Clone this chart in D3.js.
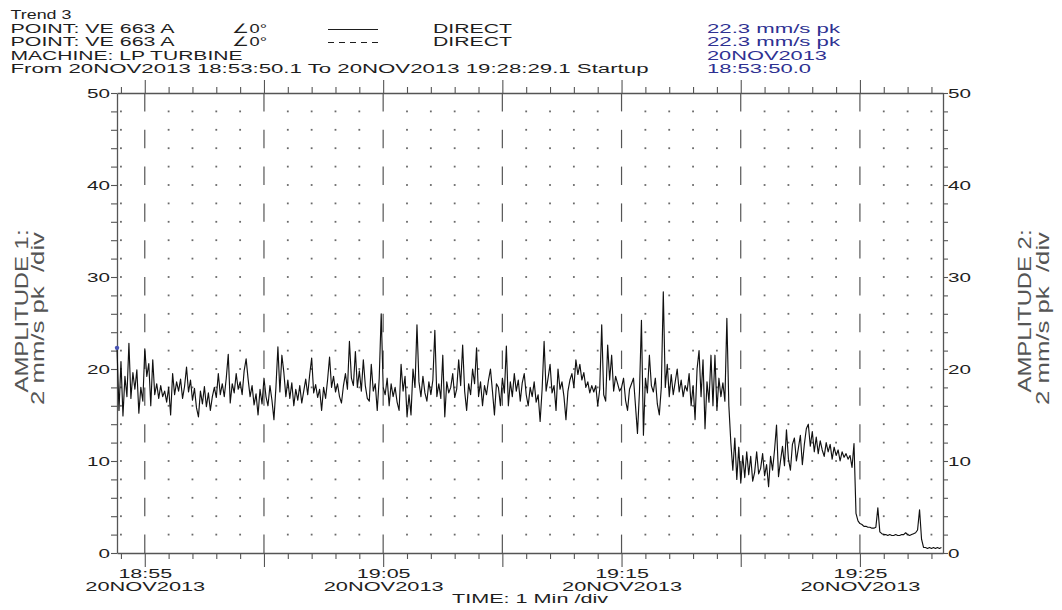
<!DOCTYPE html>
<html>
<head>
<meta charset="utf-8">
<script src="https://cdn.jsdelivr.net/npm/d3@7"></script>
<style>
  html, body { margin: 0; padding: 0; background: #fff; }
  svg { display: block; }
  text { font-family: "Liberation Sans", Arial, Helvetica, sans-serif; white-space: pre; }
</style>
</head>
<body>
<svg id="chart" width="1062" height="610"></svg>
<script>
// ---- Trend record: LP turbine overall vibration, one sample every 5 s ----
const startTime = new Date(2013, 10, 20, 18, 53, 50, 100);
const endTime = new Date(2013, 10, 20, 19, 28, 29, 100);
const sampleSeconds = 5;

// amplitude, mm/s pk (one row per minute of record)
const amplitude = [
  22.3, 15.5, 20.8, 14.9, 19.2, 17.0, 22.8, 16.8, 19.6, 17.8, 19.9, 15.2,
  18.0, 16.5, 22.2, 19.2, 20.6, 16.0, 21.0, 17.2, 18.4, 16.8, 18.2, 17.0,
  17.6, 16.4, 18.0, 15.0, 19.5, 17.2, 18.6, 17.6, 18.9, 16.8, 18.1, 20.2,
  17.5, 18.8, 16.6, 17.9, 15.8, 14.8, 17.6, 16.2, 18.1, 15.9, 17.4, 15.5,
  17.0, 18.0, 16.9, 19.5, 17.2, 18.4, 17.0, 19.0, 21.6, 16.3, 18.4, 17.4,
  19.5, 17.8, 18.6, 17.2, 19.8, 21.1, 18.9, 17.0, 18.2, 16.1, 17.3, 15.0,
  17.8, 16.2, 19.0, 17.0, 16.0, 18.2, 16.6, 14.5, 18.0, 22.4, 17.5, 21.5,
  19.6, 17.0, 18.8, 16.8, 18.5, 16.0, 17.8, 16.6, 18.2, 16.3, 17.6, 18.9,
  17.2, 19.4, 21.2, 17.4, 18.3, 16.9, 17.8, 15.5, 18.0, 16.8, 18.8, 21.3,
  18.0, 19.2, 17.5, 18.4, 17.0, 16.3, 18.2, 19.5, 17.8, 23.0, 19.0, 18.2,
  21.9, 18.0, 19.8, 17.6, 21.0, 18.2, 16.8, 16.5, 20.5, 17.6, 18.4, 15.5,
  19.0, 26.0, 18.0, 17.2, 19.0, 16.0, 18.4, 17.0, 18.0, 16.4, 15.5, 20.5,
  17.6, 19.2, 14.8, 17.2, 15.0, 20.0, 18.0, 24.8, 18.6, 17.0, 19.2, 17.4,
  16.5, 18.6, 17.2, 18.8, 24.2, 17.0, 18.4, 16.8, 21.5, 14.8, 18.6, 17.4,
  18.0, 19.5, 16.9, 17.8, 21.0, 18.2, 22.6, 17.6, 15.5, 18.4, 17.2, 20.0,
  18.4, 22.3, 17.0, 18.6, 16.0, 18.2, 17.2, 18.8, 20.0, 17.6, 15.0, 18.4,
  18.0, 16.0, 19.0, 17.4, 22.5, 16.0, 18.6, 17.0, 19.5, 17.6, 18.8, 16.5,
  18.5, 19.5, 17.2, 16.0, 18.0, 17.0, 18.6, 16.4, 17.2, 14.3, 17.8, 23.0,
  17.6, 19.0, 20.5, 17.4, 18.2, 15.5, 20.0, 17.8, 18.6, 17.0, 14.5, 17.6,
  18.8, 19.5, 18.0, 21.0, 19.4, 20.5, 18.8, 19.6, 18.0, 18.6, 17.4, 18.2,
  17.5, 18.2, 16.0, 17.8, 24.8, 17.2, 16.5, 22.6, 18.8, 21.5, 17.6, 19.2,
  18.4, 17.6, 18.0, 19.0, 16.6, 15.5, 17.8, 18.4, 19.0, 16.0, 13.0, 17.5,
  25.3, 12.8, 19.0, 17.4, 21.5, 18.2, 17.5, 19.0, 16.2, 15.0, 18.0, 28.4,
  18.0, 20.5, 17.0, 19.4, 17.2, 18.6, 20.0, 17.5, 18.8, 17.0, 18.2, 17.6,
  19.5, 16.0, 18.2, 14.5, 20.0, 22.0, 17.0, 21.0, 13.5, 18.6, 16.4, 21.5,
  16.0, 21.5, 15.5, 19.0, 17.0, 18.5, 16.5, 25.5, 16.0, 12.0, 9.0, 12.5,
  8.0, 11.5, 7.6, 10.6, 8.2, 11.0, 8.5, 10.5, 7.8, 8.8, 11.0, 8.6,
  9.2, 10.8, 8.4, 9.6, 7.2, 10.5, 9.0, 11.2, 13.9, 8.3, 10.0, 11.6,
  9.5, 13.4, 10.2, 9.0, 11.8, 12.5, 10.0, 11.4, 12.8, 9.6, 11.8, 13.5,
  14.0, 11.6, 13.2, 11.0, 12.6, 10.8, 12.2, 11.2, 10.5, 12.0, 11.0, 11.8,
  10.2, 11.5, 10.6, 11.2, 10.0, 11.0, 10.4, 10.8, 10.2, 10.6, 9.3, 11.9,
  4.3, 3.5, 3.2, 3.1, 2.9, 2.9, 2.8, 2.8, 2.7, 2.7, 2.8, 4.9,
  2.3, 2.1, 2.0, 2.0, 1.9, 2.0, 1.9, 1.9, 2.0, 1.9, 1.9, 2.0,
  2.0, 2.2, 2.0, 1.9, 2.0, 2.1, 2.2, 2.5, 4.7, 1.5, 0.6, 0.6,
  0.5, 0.6, 0.5, 0.6, 0.5, 0.6, 0.5, 0.6
];

const amplitudeTicks = [0, 10, 20, 30, 40, 50];
const timeTickLabels = ["18:55", "19:05", "19:15", "19:25"];
const dateLabel = "20NOV2013";
const cursorTime = "18:53:50.0";

const headerLines = [
  "Trend 3",
  "POINT: VE 663 A",
  "POINT: VE 663 A",
  "MACHINE: LP TURBINE",
  "From 20NOV2013 18:53:50.1 To 20NOV2013 19:28:29.1 Startup"
];
const channelAngles = ["\u22200\u00b0", "\u22200\u00b0"];
const channelModes = ["DIRECT", "DIRECT"];
const axisTitles = {
  left: ["AMPLITUDE 1:", "2 mm/s pk  /div"],
  right: ["AMPLITUDE 2:", "2 mm/s pk  /div"],
  bottom: "TIME: 1 Min /div"
};

// ---- drawing ----
const svg = d3.select("#chart");
svg.append("rect").attr("width", 1062).attr("height", 610).attr("fill", "#fff");

const plot = { left: 117, right: 943, top: 93, bottom: 553 };
const x = d3.scaleTime().domain([startTime, endTime]).range([plot.left, plot.right]);
const y = d3.scaleLinear().domain([0, 50]).range([plot.bottom, plot.top]);

const ink = "#1e1e1e";
const axisInk = "#555";
const gridInk = "#6a6a6a";
const blueInk = "#2e3192";
const titleInk = "#555";
const fontSize = 12.5;

function fitWidth(sel, w) {
  sel.attr("textLength", w).attr("lengthAdjust", "spacingAndGlyphs");
}
function stretchBy(sel, k) {
  sel.each(function () {
    const n = this.getComputedTextLength();
    if (n > 0) {
      this.setAttribute("textLength", n * k);
      this.setAttribute("lengthAdjust", "spacingAndGlyphs");
    }
  });
}

// header block
const headerBase = [19.3, 33, 46.3, 59.5, 72.8];
const headerWidths = [61, 164, 164, 232, 638];
headerLines.forEach((t, i) => {
  svg.append("text").attr("x", 10.5).attr("y", headerBase[i])
    .attr("font-size", fontSize).attr("fill", ink).text(t)
    .call(fitWidth, headerWidths[i]);
});
channelAngles.forEach((t, i) => {
  svg.append("text").attr("x", 232).attr("y", headerBase[i + 1])
    .attr("font-size", fontSize).attr("fill", ink).text(t)
    .call(fitWidth, 35);
});
channelModes.forEach((t, i) => {
  svg.append("text").attr("x", 433).attr("y", headerBase[i + 1])
    .attr("font-size", fontSize).attr("fill", ink).text(t)
    .call(fitWidth, 79);
});
svg.append("line").attr("x1", 328).attr("x2", 378).attr("y1", 29.5).attr("y2", 29.5)
  .attr("stroke", ink).attr("stroke-width", 1);
svg.append("line").attr("x1", 328).attr("x2", 378).attr("y1", 42.5).attr("y2", 42.5)
  .attr("stroke", ink).attr("stroke-width", 1).attr("stroke-dasharray", "6,5");

const cursorValue = amplitude[0];
const cursorLines = [
  `${cursorValue.toFixed(1)} mm/s pk`,
  `${cursorValue.toFixed(1)} mm/s pk`,
  dateLabel,
  cursorTime
];
const cursorWidths = [133, 133, 120, 104];
cursorLines.forEach((t, i) => {
  svg.append("text").attr("x", 707).attr("y", headerBase[i + 1])
    .attr("font-size", fontSize).attr("fill", blueInk).text(t)
    .call(fitWidth, cursorWidths[i]);
});

// grid: dots every minute / 2 units, dashed verticals every 5 minutes
const minutes = d3.timeMinute.range(d3.timeMinute.ceil(startTime), endTime);
const isMajor = d => d.getMinutes() % 5 === 0;
const grid = svg.append("g");
const dotLevels = d3.range(2, 50, 2);
minutes.filter(d => !isMajor(d)).forEach(m => {
  grid.selectAll(null).data(dotLevels).join("rect")
    .attr("x", x(m) - 0.9).attr("y", v => y(v) - 0.9)
    .attr("width", 1.8).attr("height", 1.8).attr("fill", gridInk);
});
const dashLevels = d3.range(0, 50, 4);
minutes.filter(isMajor).forEach(m => {
  grid.selectAll(null).data(dashLevels).join("line")
    .attr("x1", x(m)).attr("x2", x(m))
    .attr("y1", v => y(v)).attr("y2", v => y(v + 2))
    .attr("stroke", axisInk).attr("stroke-width", 1.2);
});

// axes
function styleAxis(g) {
  g.select(".domain").attr("stroke", axisInk).attr("stroke-width", 1.3);
  g.selectAll(".tick line").attr("stroke", axisInk).attr("stroke-width", 1.1);
  g.selectAll(".tick text").attr("fill", ink).attr("font-size", fontSize)
    .attr("font-family", "Liberation Sans, Arial, sans-serif");
}

const fmtHM = d3.timeFormat("%H:%M");
const bottomAxis = svg.append("g").attr("transform", `translate(0,${plot.bottom})`)
  .call(d3.axisBottom(x).tickValues(minutes).tickSize(6).tickSizeOuter(0)
    .tickFormat(d => timeTickLabels.includes(fmtHM(d)) ? fmtHM(d) : ""))
  .call(styleAxis);
bottomAxis.selectAll(".tick").filter(isMajor).select("line").attr("y2", 14);
bottomAxis.selectAll(".tick text").attr("y", 24.5).attr("dy", null).call(stretchBy, 1.72);
bottomAxis.selectAll(".tick").filter(d => timeTickLabels.includes(fmtHM(d)))
  .append("text").attr("y", 37.7).attr("fill", ink).attr("font-size", fontSize)
  .attr("text-anchor", "middle").text(dateLabel).call(fitWidth, 120);

const topAxis = svg.append("g").attr("transform", `translate(0,${plot.top})`)
  .call(d3.axisTop(x).tickValues(minutes).tickSize(6).tickSizeOuter(0).tickFormat(""))
  .call(styleAxis);
topAxis.selectAll(".tick").filter(isMajor).select("line").attr("y2", -13);

const levelTicks = d3.range(0, 51, 2);
const leftAxis = svg.append("g").attr("transform", `translate(${plot.left},0)`)
  .call(d3.axisLeft(y).tickValues(levelTicks).tickSize(6).tickSizeOuter(0).tickPadding(1)
    .tickFormat(d => amplitudeTicks.includes(d) ? d : ""))
  .call(styleAxis);
leftAxis.selectAll(".tick text").attr("dy", "0.36em").call(stretchBy, 1.65);

const rightAxis = svg.append("g").attr("transform", `translate(${plot.right},0)`)
  .call(d3.axisRight(y).tickValues(levelTicks).tickSize(5).tickSizeOuter(0).tickPadding(0)
    .tickFormat(d => amplitudeTicks.includes(d) ? d : ""))
  .call(styleAxis);
rightAxis.selectAll(".tick text").attr("dy", "0.36em").call(stretchBy, 1.65);

// trend trace
const samples = amplitude.map((v, i) => ({ t: new Date(+startTime + i * sampleSeconds * 1000), v }));
svg.append("path").datum(samples)
  .attr("fill", "none").attr("stroke", "#111").attr("stroke-width", 1.15)
  .attr("stroke-linejoin", "round")
  .attr("d", d3.line().x(d => x(d.t)).y(d => y(d.v)));

// cursor marker at the start of the record
svg.append("circle").attr("cx", x(samples[0].t)).attr("cy", y(cursorValue)).attr("r", 2.2)
  .attr("fill", "#4a55b5");

// axis titles
function rotatedTitle(lines, baselines, centers, lengths) {
  lines.forEach((t, i) => {
    svg.append("g").attr("transform", `translate(${baselines[i]},${centers[i]}) rotate(-90)`)
      .append("text").attr("transform", "scale(1,1.45)").attr("text-anchor", "middle")
      .attr("font-size", fontSize).attr("fill", titleInk).text(t).call(fitWidth, lengths[i]);
  });
}
rotatedTitle(axisTitles.left, [28, 44], [311, 318.5], [163, 173]);
rotatedTitle(axisTitles.right, [1030.5, 1048.5], [311, 318.5], [163, 173]);

svg.append("text").attr("x", 530).attr("y", 603).attr("text-anchor", "middle")
  .attr("font-size", fontSize).attr("fill", ink).text(axisTitles.bottom).call(fitWidth, 156);
</script>
</body>
</html>
